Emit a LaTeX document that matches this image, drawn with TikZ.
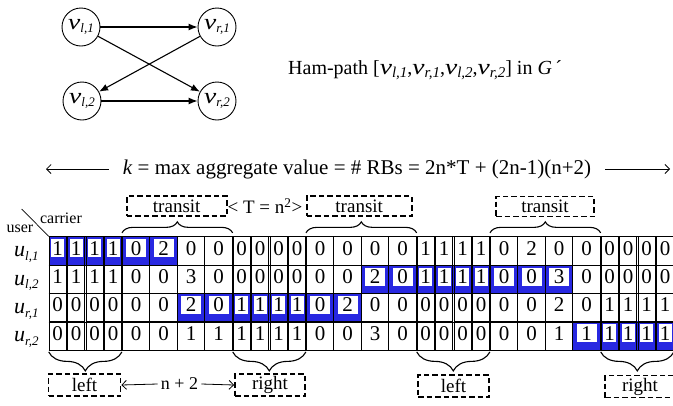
\documentclass[tikz,border=0pt]{standalone}
\usepackage{fontspec}
\setmainfont{Liberation Serif}
\usepackage{graphicx}
\usetikzlibrary{arrows.meta,decorations.pathreplacing,backgrounds}

\definecolor{hlblue}{RGB}{40,40,225}

% italic letter with a lowered italic index: letter, index, sizes, horizontal stretch
\newcommand\sbx[5]{{\fontsize{#3}{#3}\selectfont\itshape\scalebox{#5}[1]{#1}}\raisebox{-3.5pt}{\fontsize{#4}{#4}\selectfont\itshape #2}}
\newcommand\nv[1]{\sbx{v}{#1}{22}{13}{1.25}}
\newcommand\hv[1]{\sbx{v}{#1}{22}{15}{1.25}}
\newcommand\ru[1]{\sbx{u}{#1}{22}{13}{1}}

\begin{document}
\begin{tikzpicture}[x=1pt,y=-1pt,
  vnode/.style={circle, draw, line width=0.9pt, minimum size=38pt, inner sep=0pt},
  garrow/.style={line width=1.1pt, -{Latex[length=9pt,width=7pt]}},
  barb/.style={line width=0.8pt, -{Straight Barb[length=4.5pt,width=9pt]}},
  dbox/.style={draw, line width=1.8pt, dash pattern=on 5.5pt off 3pt, inner sep=0pt,
               minimum height=20pt, font=\fontsize{19}{19}\selectfont},
  lbl/.style={inner sep=0pt, font=\fontsize{19}{19}\selectfont},
  hdr/.style={inner sep=0pt, font=\fontsize{16}{16}\selectfont},
  cell0/.style={draw, line width=0.7pt, minimum width=17pt, minimum height=28.33pt, inner sep=0pt},
  cell1/.style={draw, line width=0.7pt, minimum width=27.5pt, minimum height=28.33pt, inner sep=0pt},
  digit0/.style={inner sep=0pt, minimum width=13pt, minimum height=18pt, font=\fontsize{21}{21}\selectfont},
  digit1/.style={inner sep=0pt, minimum width=20pt, minimum height=18pt, font=\fontsize{21}{21}\selectfont},
  hl0/.style={},
  hl1/.style={fill=white},
  braceup/.style={decorate, decoration={brace, amplitude=11pt}, line width=1.1pt},
  bracedn/.style={decorate, decoration={brace, amplitude=19pt}, line width=1.1pt},
  gridline/.style={line width=0.7pt}
]
\useasboundingbox (0,0) rectangle (673,405);

% ---- the small directed graph ----
\node[vnode] (vl1) at (81,27)  {\nv{l,1}};
\node[vnode] (vr1) at (217,27) {\nv{r,1}};
\node[vnode] (vl2) at (82,101) {\nv{l,2}};
\node[vnode] (vr2) at (217,101) {\nv{r,2}};
\draw[garrow] (vl1) -- (vr1);
\draw[garrow] (vl1) -- (vr2);
\draw[garrow] (vr1) -- (vl2);
\draw[garrow] (vl2) -- (vr2);

\node[anchor=base west, inner sep=0pt, font=\fontsize{20}{20}\selectfont] (ham) at (288,74)
  {Ham-path [\hv{l,1},\hv{r,1},\hv{l,2},\hv{r,2}] in \textit{G}\,´};

% ---- total width line ----
\node[anchor=base, inner xsep=14pt, inner ysep=0pt, font=\fontsize{21}{21}\selectfont] (kt) at (357,174.5)
  {\textit{k} = max aggregate value = \# RBs = 2n*T + (2n-1)(n+2)};
\coordinate (kL) at (46,169);
\coordinate (kR) at (670,169);
\draw[barb] (kt.west |- kL) -- (kL);
\draw[barb] (kt.east |- kR) -- (kR);

% ---- table of values ----
\foreach \r/\a/\b/\vals in {
  1/1/6/{1,1,1,1,0,2,0,0,0,0,0,0,0,0,0,0,1,1,1,1,0,2,0,0,0,0,0,0},
  2/15/23/{1,1,1,1,0,0,3,0,0,0,0,0,0,0,2,0,1,1,1,1,0,0,3,0,0,0,0,0},
  3/7/14/{0,0,0,0,0,0,2,0,1,1,1,1,0,2,0,0,0,0,0,0,0,0,2,0,1,1,1,1},
  4/24/28/{0,0,0,0,0,0,1,1,1,1,1,1,0,0,3,0,0,0,0,0,0,0,1,1,1,1,1,1}} {
  \pgfmathsetmacro\ry{236.7+28.33*(\r-0.5)}
  \foreach \d [count=\c] in \vals {
    \pgfmathtruncatemacro\g{(\c-1)/4}
    \pgfmathtruncatemacro\k{mod(\c-1,4)}
    \pgfmathtruncatemacro\m{\g/2}
    \pgfmathtruncatemacro\w{mod(\g,2)}
    \pgfmathsetmacro\cw{\w==1 ? 27.5 : 18.5}
    \pgfmathsetmacro\cx{48.3+184*\m+74*\w+\k*\cw+\cw/2}
    \pgfmathtruncatemacro\h{and(\c>=\a,\c<=\b)}
    \node[cell\w] (c-\r-\c) at (\cx,\ry) {};
    \node[digit\w, hl\h] (d-\r-\c) at (\cx,\ry-2.5) {\d};
  }
}
\foreach \r in {1,...,4} {
  \draw[gridline] (c-\r-1.south west) -- (c-\r-28.south east);
}
\draw[gridline] (c-1-1.north west) -- (c-1-28.north east);

\begin{scope}[on background layer]
  \foreach \r/\a/\b in {1/1/6, 2/15/23, 3/7/14, 4/24/28}
    \fill[hlblue] (c-\r-\a.north west) rectangle (c-\r-\b.south east);
\end{scope}

% row and column headings
\node[anchor=base west, inner sep=0pt] (u1) at (14,256.9) {\ru{l,1}};
\node[anchor=base west, inner sep=0pt] (u2) at (14,285.2) {\ru{l,2}};
\node[anchor=base west, inner sep=0pt] (u3) at (14,313.5) {\ru{r,1}};
\node[anchor=base west, inner sep=0pt] (u4) at (14,341.9) {\ru{r,2}};
\node[hdr] (car) at (61,218) {carrier};
\node[hdr] (usr) at (20,229) {user};
\coordinate (dg) at (21.7,209);
\draw[gridline] (dg) -- (c-1-1.north west);

% ---- transit blocks above ----
\node[dbox, minimum width=100pt] (t1) at (176.7,206) {transit};
\node[dbox, minimum width=105pt] (t2) at (359.2,206) {transit};
\node[dbox, minimum width=98pt]  (t3) at (545,206.5) {transit};
\node[lbl] (tn) at (265,206) {< T = n\textsuperscript{2}>};
\draw[braceup] ([yshift=3.5pt]c-1-5.north west) -- ([yshift=3.5pt]c-1-8.north east);
\draw[braceup] ([yshift=3.5pt]c-1-13.north west) -- ([yshift=3.5pt]c-1-16.north east);
\draw[braceup] ([yshift=3.5pt]c-1-21.north west) -- ([yshift=3.5pt]c-1-24.north east);

% ---- left / right blocks below ----
\draw[bracedn] ([yshift=-1.5pt]c-4-4.south east) -- ([yshift=-1.5pt]c-4-1.south west);
\draw[bracedn] ([yshift=-1.5pt]c-4-12.south east) -- ([yshift=-1.5pt]c-4-9.south west);
\draw[bracedn] ([yshift=-1.5pt]c-4-20.south east) -- ([yshift=-1.5pt]c-4-17.south west);
\draw[bracedn] ([yshift=-1.5pt]c-4-28.south east) -- ([yshift=-1.5pt]c-4-25.south west);
\node[dbox, minimum width=72pt, minimum height=22pt] (L1) at (84.5,385) {left};
\node[dbox, minimum width=70pt, minimum height=22pt] (R1) at (270,385) {right};
\node[dbox, minimum width=71pt, minimum height=22pt] (L2) at (453.5,386) {left};
\node[dbox, minimum width=70pt, minimum height=22pt] (R2) at (640,386.5) {right};
\node[inner xsep=3pt, inner ysep=0pt, font=\fontsize{18}{18}\selectfont] (n2) at (179.5,384) {n + 2};
\draw[barb] (n2.west) -- (L1.east);
\draw[barb] (n2.east) -- (R1.west);
\end{tikzpicture}
\end{document}
